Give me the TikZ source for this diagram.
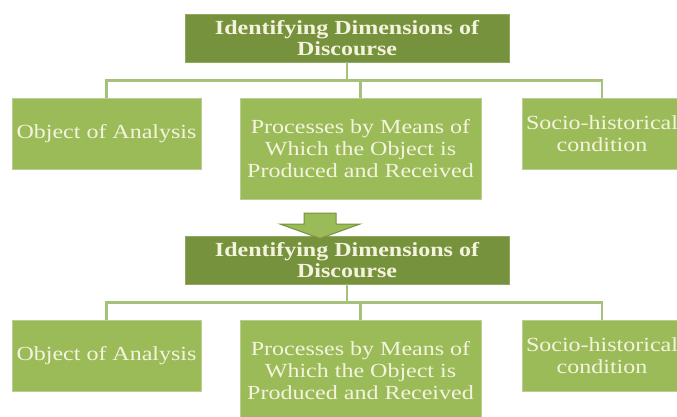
\documentclass[tikz,border=0pt]{standalone}
\usepackage{fontspec}
\setmainfont{Liberation Serif}[FakeStretch=1.2]
\usetikzlibrary{calc}
\definecolor{darkolive}{HTML}{76923C}
\definecolor{olive}{HTML}{9BBB59}
\definecolor{lineolive}{HTML}{A6C27A}
\definecolor{edgeolive}{HTML}{B9CF92}
\definecolor{cream}{HTML}{F4F4DE}
\tikzset{
  titlebox/.style={fill=darkolive, draw=darkolive!80!white, line width=0.6pt, inner sep=0pt,
    text=cream, align=center, font=\fontsize{20}{21}\selectfont\bfseries},
  childbox/.style={fill=olive, draw=edgeolive, line width=0.8pt, inner sep=0pt,
    text=cream, align=center, font=\fontsize{20}{22.3}\selectfont},
  conn/.style={draw=lineolive, line width=2.6pt},
  bigarrow/.style={fill=olive, draw=darkolive, line width=1pt, line join=miter}
}
\begin{document}
\begin{tikzpicture}[x=1pt,y=-1pt]
\path[use as bounding box] (0,0) rectangle (677,416);
\clip (0,0) rectangle (677,416);
% ---- first chart ----
\node[titlebox, minimum width=324pt, minimum height=48pt] (t1) at (347,38) {Identifying Dimensions of\\Discourse};
\node[childbox, minimum width=189pt, minimum height=71pt] (l1) at (106.5,133.5) {Object of Analysis};
\node[childbox, minimum width=241pt, minimum height=101pt] (m1) at (360.5,148.5) {Processes by Means of\\Which the Object is\\Produced and Received};
\node[childbox, minimum width=160pt, minimum height=71pt] (r1) at (602,133.5) {Socio-historical\\condition};
\coordinate (j1) at ($(t1.south)+(0,18)$);
\draw[conn] (t1.south) -- (j1);
\draw[conn] (l1.north) |- (j1) -| (r1.north);
\draw[conn] (m1.north) -- (m1.north |- j1);
% ---- arrow ----
\node[titlebox, minimum width=324pt, minimum height=48pt] (t2) at (347,260) {Identifying Dimensions of\\Discourse};
\draw[bigarrow] (304,213) -- (336,213) -- (336,224) -- (360,224) -- (320,238.5) -- (280,224) -- (304,224) -- cycle;
% ---- second chart ----
\node[childbox, minimum width=189pt, minimum height=71pt] (l2) at (106.5,355.5) {Object of Analysis};
\node[childbox, minimum width=241pt, minimum height=101pt] (m2) at (360.5,370.5) {Processes by Means of\\Which the Object is\\Produced and Received};
\node[childbox, minimum width=160pt, minimum height=71pt] (r2) at (602,355.5) {Socio-historical\\condition};
\coordinate (j2) at ($(t2.south)+(0,18)$);
\draw[conn] (t2.south) -- (j2);
\draw[conn] (l2.north) |- (j2) -| (r2.north);
\draw[conn] (m2.north) -- (m2.north |- j2);
\end{tikzpicture}
\end{document}
